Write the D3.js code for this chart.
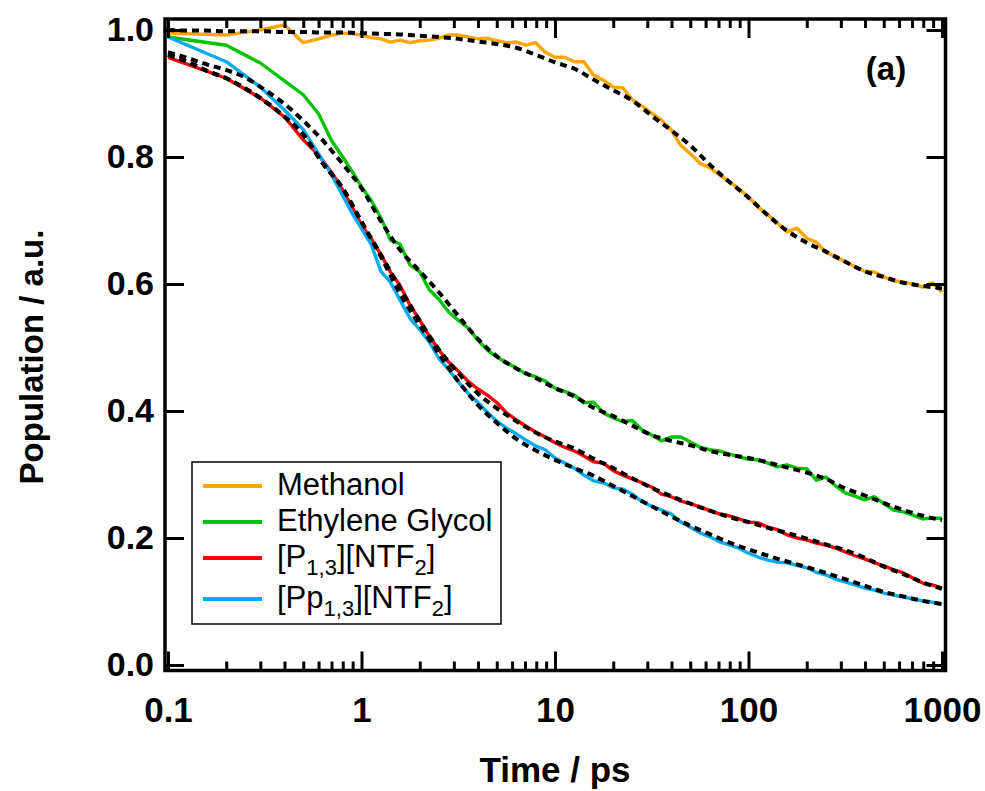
<!DOCTYPE html>
<html>
<head>
<meta charset="utf-8">
<script src="https://cdn.jsdelivr.net/npm/d3@7"></script>
<style>
  body { margin: 0; background: #fff; }
  svg { display: block; }
  text { font-family: "Liberation Sans", Arial, sans-serif; fill: #000; }
</style>
</head>
<body>
<svg id="chart" width="985" height="791"></svg>
<script>
// ---- measured populations (ps) ----
const times = [0.1,0.2,0.3,0.4,0.5,0.6,0.7,0.8,0.9,1.0,
  1.12,1.26,1.41,1.58,1.78,2.0,2.24,2.51,2.82,3.16,3.55,3.98,4.47,5.01,5.62,6.31,7.08,7.94,8.91,10,
  11.2,12.6,14.1,15.8,17.8,20,22.4,25.1,28.2,31.6,35.5,39.8,44.7,50.1,56.2,63.1,70.8,79.4,89.1,100,
  112,126,141,158,178,200,224,251,282,316,355,398,447,501,562,631,708,794,891,1000];

const methanol = [0.995,0.992,1.0,1.008,0.98,0.986,0.992,0.995,0.994,0.992,
  0.988,0.986,0.981,0.984,0.98,0.983,0.984,0.987,0.992,0.992,0.989,0.986,0.987,0.983,0.98,0.981,0.976,0.98,0.965,0.957,
  0.957,0.95,0.95,0.929,0.921,0.91,0.909,0.89,0.88,0.869,0.858,0.843,0.818,0.805,0.79,0.783,0.772,0.761,0.75,0.737,
  0.721,0.709,0.696,0.682,0.688,0.672,0.666,0.65,0.643,0.635,0.627,0.62,0.619,0.611,0.605,0.603,0.6,0.595,0.602,0.587];

const glycol = [0.989,0.976,0.948,0.92,0.898,0.868,0.826,0.80,0.776,0.753,
  0.732,0.704,0.669,0.663,0.63,0.619,0.591,0.576,0.556,0.543,0.531,0.512,0.496,0.485,0.476,0.468,0.458,0.454,0.447,0.436,
  0.431,0.425,0.413,0.414,0.397,0.389,0.383,0.385,0.37,0.362,0.353,0.359,0.359,0.351,0.343,0.339,0.337,0.332,0.328,0.324,
  0.323,0.318,0.312,0.315,0.31,0.309,0.291,0.296,0.282,0.271,0.266,0.26,0.265,0.254,0.244,0.241,0.236,0.23,0.231,0.231];

const p13 = [0.957,0.924,0.893,0.863,0.827,0.803,0.776,0.748,0.72,0.693,
  0.672,0.646,0.619,0.598,0.567,0.543,0.518,0.496,0.477,0.463,0.447,0.435,0.425,0.413,0.397,0.386,0.376,0.367,0.359,0.35,
  0.343,0.337,0.329,0.32,0.318,0.306,0.299,0.293,0.287,0.28,0.269,0.265,0.258,0.254,0.249,0.243,0.238,0.235,0.23,0.225,
  0.224,0.217,0.213,0.205,0.2,0.197,0.192,0.189,0.184,0.178,0.172,0.167,0.161,0.156,0.15,0.145,0.137,0.129,0.126,0.121];

const pp13 = [0.989,0.95,0.91,0.874,0.843,0.805,0.772,0.739,0.71,0.687,
  0.663,0.62,0.603,0.575,0.546,0.528,0.509,0.483,0.465,0.446,0.428,0.414,0.398,0.384,0.373,0.364,0.354,0.345,0.339,0.326,
  0.318,0.31,0.299,0.29,0.287,0.279,0.277,0.269,0.257,0.25,0.244,0.238,0.225,0.217,0.208,0.202,0.194,0.189,0.184,0.176,
  0.17,0.165,0.162,0.161,0.157,0.153,0.146,0.142,0.135,0.131,0.126,0.121,0.118,0.113,0.11,0.107,0.104,0.101,0.099,0.096];

// ---- fitted curves ----
const fitTimes = [0.1,0.126,0.158,0.2,0.251,0.316,0.398,0.501,0.631,0.794,1,1.26,1.58,2,2.51,3.16,3.98,5.01,6.31,7.94,
  10,12.6,15.8,20,25.1,31.6,39.8,50.1,63.1,79.4,100,126,158,200,251,316,398,501,631,794,1000];

const methanolFit = [1.0,0.999,0.999,0.998,0.998,0.998,0.997,0.997,0.996,0.996,0.995,0.994,0.993,0.991,0.989,0.986,0.982,0.978,0.972,0.961,
  0.949,0.939,0.922,0.905,0.889,0.865,0.842,0.818,0.788,0.761,0.736,0.708,0.684,0.665,0.651,0.635,0.62,0.611,0.602,0.597,0.593];
const glycolFit = [0.965,0.956,0.946,0.937,0.925,0.906,0.884,0.857,0.826,0.79,0.751,0.699,0.654,0.62,0.587,0.55,0.514,0.486,0.467,0.452,
  0.436,0.423,0.405,0.392,0.377,0.362,0.353,0.346,0.337,0.331,0.326,0.319,0.311,0.303,0.293,0.278,0.267,0.255,0.244,0.235,0.228];
const p13Fit = [0.961,0.95,0.936,0.924,0.908,0.888,0.864,0.835,0.79,0.752,0.698,0.646,0.594,0.542,0.497,0.46,0.428,0.404,0.384,0.366,
  0.352,0.341,0.325,0.31,0.294,0.279,0.266,0.254,0.243,0.233,0.225,0.216,0.208,0.199,0.19,0.181,0.169,0.155,0.143,0.13,0.12];
const pp13Fit = [0.961,0.95,0.936,0.924,0.908,0.888,0.864,0.835,0.79,0.752,0.698,0.643,0.585,0.535,0.49,0.447,0.41,0.381,0.356,0.338,
  0.323,0.31,0.298,0.282,0.266,0.25,0.234,0.219,0.206,0.193,0.182,0.172,0.163,0.154,0.145,0.135,0.125,0.115,0.108,0.101,0.096];

// ---- axes ----
const xMajor = [0.1, 1, 10, 100, 1000];
const xMajorLabels = ["0.1", "1", "10", "100", "1000"];
const yMajor = [0.0, 0.2, 0.4, 0.6, 0.8, 1.0];
const yMajorLabels = ["0.0", "0.2", "0.4", "0.6", "0.8", "1.0"];

const seriesNames = ["Methanol", "Ethylene Glycol", "[P1,3][NTF2]", "[Pp1,3][NTF2]"];
// legend entries split into plain and subscript pieces
const legendParts = [
  [["Methanol", false]],
  [["Ethylene Glycol", false]],
  [["[P", false], ["1,3", true], ["][NTF", false], ["2", true], ["]", false]],
  [["[Pp", false], ["1,3", true], ["][NTF", false], ["2", true], ["]", false]]
];
const seriesColors = ["#ffa500", "#00c400", "#ff0000", "#00aaf0"];
const panelLabel = "(a)";

const dataSeries = [methanol, glycol, p13, pp13];
const fitSeries = [methanolFit, glycolFit, p13Fit, pp13Fit];

const svg = d3.select("#chart");
const L = 165, R = 945.5, T = 19, B = 670.5;

const x = d3.scaleLog().domain([0.0965, 1042.5]).range([L, R]);
const y = d3.scaleLinear().domain([-0.0087, 1.0173]).range([B, T]);

svg.append("defs").append("clipPath").attr("id", "plotclip")
  .append("rect").attr("x", L).attr("y", T).attr("width", R - L).attr("height", B - T);

const plot = svg.append("g").attr("clip-path", "url(#plotclip)");

const dataLine = d3.line().x((d, i) => x(times[i])).y(d => y(d));
dataSeries.forEach((s, k) => {
  plot.append("path").datum(s)
    .attr("d", dataLine)
    .attr("fill", "none")
    .attr("stroke", seriesColors[k])
    .attr("stroke-width", 3.4)
    .attr("stroke-linejoin", "round");
});

const fitLine = d3.line().x((d, i) => x(fitTimes[i])).y(d => y(d)).curve(d3.curveMonotoneX);
fitSeries.forEach(s => {
  plot.append("path").datum(s)
    .attr("d", fitLine)
    .attr("fill", "none")
    .attr("stroke", "#000")
    .attr("stroke-width", 4)
    .attr("stroke-dasharray", "7,5");
});

// minor decade ticks
const xMinor = [];
[0.1, 1, 10, 100].forEach(d => { for (let m = 2; m <= 9; m++) xMinor.push(+(d * m).toPrecision(3)); });

function styleAxis(g) {
  g.select(".domain").remove();
  g.selectAll(".tick line").attr("stroke", "#000").attr("stroke-width", 3);
}

const majLen = 19, minLen = 9;

svg.append("g").attr("transform", `translate(0,${B})`)
  .call(d3.axisBottom(x).tickValues(xMajor).tickFormat((d, i) => xMajorLabels[i]).tickSize(-majLen).tickPadding(27))
  .call(styleAxis)
  .call(g => g.selectAll("text").attr("font-size", 35).attr("font-weight", "bold")
    .attr("font-family", "'Liberation Sans', Arial, sans-serif"));
svg.append("g").attr("transform", `translate(0,${B})`)
  .call(d3.axisBottom(x).tickValues(xMinor).tickFormat("").tickSize(-minLen)).call(styleAxis);
svg.append("g").attr("transform", `translate(0,${T})`)
  .call(d3.axisTop(x).tickValues(xMajor).tickFormat("").tickSize(-majLen)).call(styleAxis);
svg.append("g").attr("transform", `translate(0,${T})`)
  .call(d3.axisTop(x).tickValues(xMinor).tickFormat("").tickSize(-minLen)).call(styleAxis);

svg.append("g").attr("transform", `translate(${L},0)`)
  .call(d3.axisLeft(y).tickValues(yMajor).tickFormat((d, i) => yMajorLabels[i]).tickSize(-majLen).tickPadding(11))
  .call(styleAxis)
  .call(g => g.selectAll("text").attr("font-size", 34).attr("font-weight", "bold")
    .attr("font-family", "'Liberation Sans', Arial, sans-serif"));
svg.append("g").attr("transform", `translate(${R},0)`)
  .call(d3.axisRight(y).tickValues(yMajor).tickFormat("").tickSize(-majLen)).call(styleAxis);

// frame
svg.append("rect").attr("x", L).attr("y", T).attr("width", R - L).attr("height", B - T)
  .attr("fill", "none").attr("stroke", "#000").attr("stroke-width", 3.5);

// axis titles
svg.append("text").attr("x", 555).attr("y", 782).attr("text-anchor", "middle")
  .attr("font-size", 35).attr("font-weight", "bold").text("Time / ps");
svg.append("text").attr("transform", `translate(43,357) rotate(-90)`).attr("text-anchor", "middle")
  .attr("font-size", 33).attr("font-weight", "bold").text("Population / a.u.");

svg.append("text").attr("x", 886).attr("y", 80).attr("text-anchor", "middle")
  .attr("font-size", 33).attr("font-weight", "bold").text(panelLabel);

// legend
const lg = svg.append("g");
lg.append("rect").attr("x", 192).attr("y", 462).attr("width", 309).attr("height", 162)
  .attr("fill", "#fff").attr("stroke", "#000").attr("stroke-width", 1.5);
const baselines = [495, 531, 567, 608];
legendParts.forEach((parts, k) => {
  const by = baselines[k];
  lg.append("line").attr("x1", 203).attr("x2", 262).attr("y1", by - 9).attr("y2", by - 9)
    .attr("stroke", seriesColors[k]).attr("stroke-width", 4);
  const t = lg.append("text").attr("x", 277).attr("y", by).attr("font-size", 31);
  let shifted = false;
  parts.forEach(([str, sub]) => {
    const sp = t.append("tspan").text(str);
    if (sub && !shifted) { sp.attr("font-size", 22).attr("dy", 8); shifted = true; }
    else if (!sub && shifted) { sp.attr("dy", -8); shifted = false; }
  });
  t.append("title").text(seriesNames[k]);
});
</script>
</body>
</html>
